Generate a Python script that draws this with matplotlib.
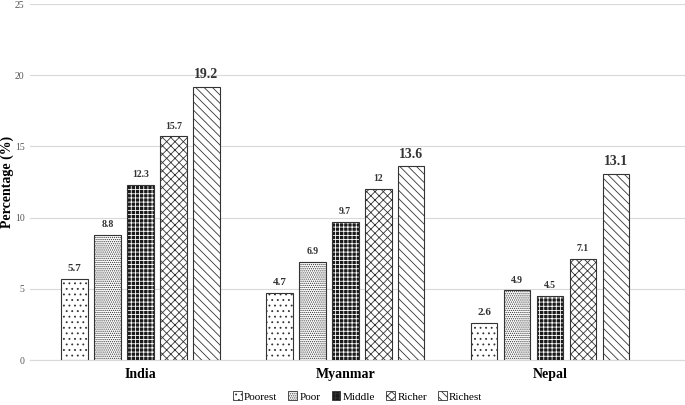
import numpy as np
import matplotlib.pyplot as plt

plt.rcParams['font.family'] = ['Liberation Serif', 'DejaVu Serif']
plt.rcParams['hatch.linewidth'] = 0.6

countries = ['India', 'Myanmar', 'Nepal']
groups = ['Poorest', 'Poor', 'Middle', 'Richer', 'Richest']
values = {
    'Poorest': [5.7, 4.7, 2.6],
    'Poor': [8.8, 6.9, 4.9],
    'Middle': [12.3, 9.7, 4.5],
    'Richer': [15.7, 12, 7.1],
    'Richest': [19.2, 13.6, 13.1],
}
labels = {
    'Poorest': ['5.7', '4.7', '2.6'],
    'Poor': ['8.8', '6.9', '4.9'],
    'Middle': ['12.3', '9.7', '4.5'],
    'Richer': ['15.7', '12', '7.1'],
    'Richest': ['19.2', '13.6', '13.1'],
}
hatches = ['...', '........', '++++', 'xxxx', '\\\\\\\\']
faces = ['white', 'white', '#1a1a1a', 'white', 'white']
hatch_cols = ['#333333', '#333333', 'white', '#333333', '#333333']
label_size = [8, 7, 7, 7, 10]

fig = plt.figure(figsize=(6.85, 4.05), dpi=100)
ax = fig.add_axes([0.044, 0.111, 0.956, 0.879])

x = np.arange(len(countries))
pitch = 0.161
width = 0.13
for i, g in enumerate(groups):
    pos = x + (i - 2) * pitch
    ax.bar(pos, values[g], width, color=faces[i], edgecolor=hatch_cols[i],
           hatch=hatches[i], linewidth=0, label=g, zorder=3)
    ax.bar(pos, values[g], width, fill=False, edgecolor='#333333',
           linewidth=0.8, zorder=4)
    for p, v, t in zip(pos, values[g], labels[g]):
        ax.text(p, v + 0.4, t, ha='center', va='bottom', fontsize=label_size[i],
                fontweight='bold', color='#333333')

ax.set_xlim(-0.54, 2.66)
ax.set_ylim(0, 25)
ax.set_yticks(np.arange(0, 26, 5))
ax.grid(axis='y', color='#d9d9d9', linewidth=0.8, zorder=0)
for s in ['top', 'right', 'left']:
    ax.spines[s].set_visible(False)
ax.spines['bottom'].set_color('#d9d9d9')
ax.tick_params(axis='y', length=0, labelsize=7, labelcolor='#555555', pad=4)
ax.tick_params(axis='x', length=0, pad=6)
ax.set_xticks(x)
ax.set_xticklabels(countries, fontsize=10, fontweight='bold')
ax.set_ylabel('Percentage (%)', fontsize=10, fontweight='bold')
ax.yaxis.set_label_coords(-0.024, 0.5)

handles, names = [], []
for i, g in enumerate(groups):
    h = plt.Rectangle((0, 0), 1, 1, facecolor=faces[i], edgecolor='#333333',
                      hatch=hatches[i], linewidth=0.6)
    handles.append(h)
    names.append(g)
leg = ax.legend(handles, names, loc='upper center', bbox_to_anchor=(0.5, -0.06),
                ncol=5, frameon=False, fontsize=8, handlelength=0.8,
                handleheight=0.8, handletextpad=0.2, columnspacing=1.0)

fig.savefig('out.png', dpi=100)
